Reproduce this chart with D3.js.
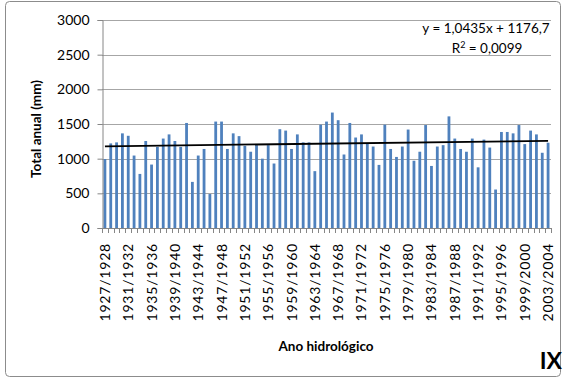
<!DOCTYPE html>
<html>
<head>
<meta charset="utf-8">
<script src="https://cdn.jsdelivr.net/npm/d3@7"></script>
<style>
  html, body { margin: 0; padding: 0; background: #fff; }
  svg { display: block; }
  text { font-family: Lato, "Open Sans", "Liberation Sans", sans-serif; fill: #000; }
</style>
</head>
<body>
<svg id="chart" width="565" height="380"></svg>
<script>
// Hydrological years 1927/1928 .. 2003/2004
const startYears = d3.range(1927, 2004);
const years = startYears.map(y => `${y}/${y + 1}`);

// Annual total precipitation (mm) per hydrological year
const totals = [
  995, 1220, 1235, 1365, 1330, 1045, 780, 1255, 915, 1170,
  1290, 1350, 1255, 1170, 1515, 665, 1045, 1140, 490, 1535,
  1535, 1140, 1365, 1325, 1185, 1100, 1195, 1000, 1195, 930,
  1425, 1405, 1140, 1350, 1235, 1235, 820, 1490, 1535, 1665,
  1555, 1060, 1515, 1305, 1350, 1215, 1175, 910, 1490, 1140,
  1025, 1175, 1420, 970, 1100, 1485, 895, 1175, 1195, 1610,
  1290, 1140, 1100, 1290, 875, 1275, 1160, 555, 1385, 1385,
  1365, 1485, 1210, 1405, 1350, 1085, 1230
];

// Labelled years on the category axis (every fourth year)
const tickLabels = years.filter((d, i) => i % 4 === 0);
const yTicks = [0, 500, 1000, 1500, 2000, 2500, 3000];

// Linear trend fitted over the series index (1..n)
const trendSlope = 1.0435;
const trendIntercept = 1176.7;
const rSquared = 0.0099;
const fmt = v => String(v).replace(".", ",");

const svg = d3.select("#chart");
const plot = { left: 102, right: 551, top: 20, bottom: 228 };

// chart frame
svg.append("rect")
  .attr("x", 5.5).attr("y", 1.5)
  .attr("width", 555).attr("height", 375)
  .attr("rx", 4)
  .attr("fill", "#fff")
  .attr("stroke", "#8c8c8c")
  .attr("stroke-width", 1);

const x = d3.scaleBand().domain(years).range([plot.left, plot.right]).paddingInner(0.52).paddingOuter(0.26);
const y = d3.scaleLinear().domain([0, 3000]).range([plot.bottom, plot.top]);

// horizontal gridlines
svg.append("g")
  .selectAll("line")
  .data(yTicks.filter(v => v > 0))
  .join("line")
  .attr("x1", plot.left).attr("x2", plot.right)
  .attr("y1", d => Math.round(y(d)) + 0.5).attr("y2", d => Math.round(y(d)) + 0.5)
  .attr("stroke", "#a6a6a6").attr("stroke-width", 1);

// bars
svg.append("g")
  .selectAll("rect")
  .data(totals)
  .join("rect")
  .attr("x", (d, i) => x(years[i]))
  .attr("width", x.bandwidth())
  .attr("y", d => y(d))
  .attr("height", d => y(0) - y(d))
  .attr("fill", "#4f81bd");

// y axis
const yAxis = svg.append("g")
  .attr("transform", `translate(${plot.left + 0.5},0)`)
  .call(d3.axisLeft(y).tickValues(yTicks).tickSize(5).tickPadding(8).tickFormat(d3.format("d")));
yAxis.select(".domain").attr("stroke", "#868686");
yAxis.selectAll(".tick line").attr("stroke", "#868686");
yAxis.selectAll("text").attr("font-size", 14).attr("font-family", "Lato, sans-serif");

// x axis: line, tick marks at category boundaries, rotated labels
const xg = svg.append("g");
xg.append("line")
  .attr("x1", plot.left).attr("x2", plot.right)
  .attr("y1", plot.bottom + 0.5).attr("y2", plot.bottom + 0.5)
  .attr("stroke", "#868686");
const step = x.step();
const boundaries = d3.range(years.length + 1).map(i => plot.left + i * (plot.right - plot.left) / years.length);
xg.selectAll("line.tk")
  .data(boundaries)
  .join("line")
  .attr("class", "tk")
  .attr("x1", d => Math.round(d) + 0.5).attr("x2", d => Math.round(d) + 0.5)
  .attr("y1", plot.bottom).attr("y2", plot.bottom + 5)
  .attr("stroke", "#868686");
xg.selectAll("text")
  .data(tickLabels)
  .join("text")
  .attr("transform", d => `translate(${x(d) + x.bandwidth() / 2 + 5},${plot.bottom + 15}) rotate(-90)`)
  .attr("text-anchor", "end")
  .attr("font-size", 14)
  .attr("letter-spacing", 0.8)
  .text(d => d);

// trend line
const trend = d3.line()
  .x(d => x(years[d - 1]) + x.bandwidth() / 2)
  .y(d => y(trendSlope * d + trendIntercept));
svg.append("path")
  .datum([1, years.length])
  .attr("d", trend)
  .attr("stroke", "#000")
  .attr("stroke-width", 1.8)
  .attr("fill", "none");

// trend equation
svg.append("text")
  .attr("x", 486).attr("y", 33)
  .attr("text-anchor", "middle")
  .attr("font-size", 13.5)
  .text(`y = ${fmt(trendSlope)}x + ${fmt(trendIntercept)}`);
const r2 = svg.append("text")
  .attr("x", 487).attr("y", 53)
  .attr("text-anchor", "middle")
  .attr("font-size", 13.5);
r2.append("tspan").text("R");
r2.append("tspan").attr("dy", -5).attr("font-size", 9).text("2");
r2.append("tspan").attr("dy", 5).text(` = ${fmt(rSquared.toFixed(4))}`);

// axis titles
svg.append("text")
  .attr("transform", `translate(41,129) rotate(-90)`)
  .attr("text-anchor", "middle")
  .attr("font-size", 13.5)
  .attr("font-weight", "bold")
  .text("Total anual (mm)");
svg.append("text")
  .attr("x", 326).attr("y", 351)
  .attr("text-anchor", "middle")
  .attr("font-size", 13.5)
  .attr("font-weight", "bold")
  .text("Ano hidrológico");

// panel label
svg.append("text")
  .attr("x", 562).attr("y", 369)
  .attr("text-anchor", "end")
  .attr("font-size", 23)
  .attr("font-weight", "bold")
  .text("IX");
</script>
</body>
</html>
